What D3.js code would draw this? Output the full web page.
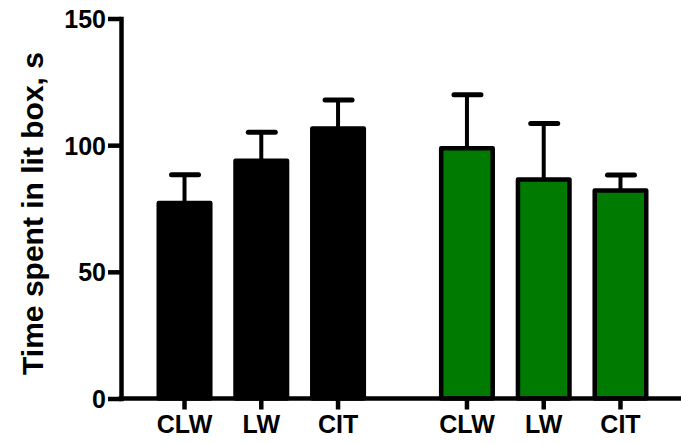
<!DOCTYPE html>
<html>
<head>
<meta charset="utf-8">
<script src="https://cdn.jsdelivr.net/npm/d3@7"></script>
<style>
  html, body { margin: 0; padding: 0; background: #fff; }
  svg { display: block; font-family: "Liberation Sans", Arial, sans-serif; font-weight: bold; }
</style>
</head>
<body>
<svg id="chart" width="681" height="445"></svg>
<script>
// Groups of bars and the drug conditions inside each group
const groups = ["set1", "set2"];
const categories = ["CLW", "LW", "CIT"];

// Mean time in the lit compartment (s) and its error (SEM)
const meansSet1 = [77.2, 93.8, 106.6];
const errorsSet1 = [11.1, 11.3, 11.2];
const meansSet2 = [98.8, 86.4, 82.1];
const errorsSet2 = [21.1, 22.2, 6.1];

const yTicks = [0, 50, 100, 150];
const yLabel = "Time spent in lit box, s";

const fills = { set1: "#000000", set2: "#007a00" };

const rows = [];
categories.forEach((c, i) => {
  rows.push({ group: "set1", cat: c, mean: meansSet1[i], err: errorsSet1[i] });
  rows.push({ group: "set2", cat: c, mean: meansSet2[i], err: errorsSet2[i] });
});

const svg = d3.select("#chart");
const W = 681;
const axisX = 121, axisY = 398.5, topY = 18.5;
const lineW = 4.5;

const y = d3.scaleLinear().domain([0, 150]).range([axisY, topY]);

const outer = d3.scaleBand().domain(groups)
  .range([156.5, 648.5]).paddingInner(0.258).paddingOuter(0);
const inner = d3.scaleBand().domain(categories)
  .range([0, outer.bandwidth()]).paddingInner(0.27).paddingOuter(0);

const cx = d => outer(d.group) + inner(d.cat) + inner.bandwidth() / 2;

// Bars
svg.append("g").selectAll("rect").data(rows).join("rect")
  .attr("x", d => outer(d.group) + inner(d.cat) + lineW / 2)
  .attr("width", inner.bandwidth() - lineW)
  .attr("y", d => y(d.mean))
  .attr("height", d => y(0) - y(d.mean))
  .attr("fill", d => fills[d.group])
  .attr("stroke", "#000")
  .attr("stroke-width", lineW)
  .attr("stroke-linejoin", "round");

// Upper error bars
const eb = svg.append("g").attr("stroke", "#000");
eb.selectAll("line.v").data(rows).join("line").attr("class", "v")
  .attr("x1", cx).attr("x2", cx)
  .attr("y1", d => y(d.mean)).attr("y2", d => y(d.mean + d.err))
  .attr("stroke-width", 4);
eb.selectAll("line.cap").data(rows).join("line").attr("class", "cap")
  .attr("x1", d => cx(d) - 13).attr("x2", d => cx(d) + 14)
  .attr("y1", d => y(d.mean + d.err)).attr("y2", d => y(d.mean + d.err))
  .attr("stroke-width", 5)
  .attr("stroke-linecap", "round");

// Y axis
const yAxis = svg.append("g")
  .attr("transform", `translate(${axisX},0)`)
  .call(d3.axisLeft(y).tickValues(yTicks).tickSize(13).tickSizeOuter(0).tickPadding(2));
yAxis.select(".domain").attr("stroke-width", lineW).attr("stroke-linecap", "square");
yAxis.selectAll(".tick line").attr("stroke-width", lineW);
yAxis.selectAll(".tick text")
  .attr("font-size", 25).attr("font-weight", "bold").attr("fill", "#000")
  .attr("font-family", "Liberation Sans, Arial, sans-serif")
  .attr("dy", "0.36em");

// X axis: baseline plus one set of category ticks per group
svg.append("line")
  .attr("x1", axisX - lineW / 2).attr("x2", W)
  .attr("y1", axisY).attr("y2", axisY)
  .attr("stroke", "#000").attr("stroke-width", lineW);

groups.forEach(g => {
  const ax = svg.append("g")
    .attr("transform", `translate(${outer(g)},${axisY})`)
    .call(d3.axisBottom(inner).tickSize(11).tickPadding(6));
  ax.select(".domain").remove();
  ax.selectAll(".tick line").attr("stroke-width", lineW);
  ax.selectAll(".tick text")
    .attr("font-size", 25).attr("font-weight", "bold").attr("fill", "#000")
    .attr("font-family", "Liberation Sans, Arial, sans-serif");
});

// Y axis title
svg.append("text")
  .attr("transform", `translate(43,${(topY + axisY) / 2 + 5}) rotate(-90)`)
  .attr("text-anchor", "middle")
  .attr("font-size", 30)
  .attr("fill", "#000")
  .text(yLabel);
</script>
</body>
</html>
